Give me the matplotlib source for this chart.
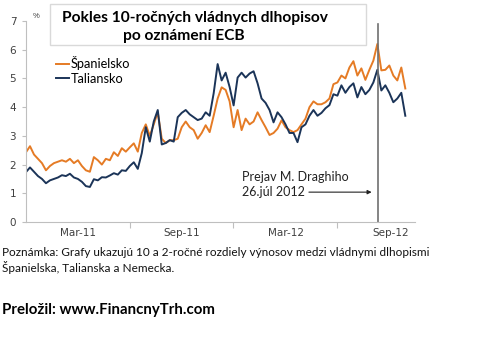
import matplotlib
matplotlib.use("Agg")
import matplotlib.pyplot as plt
import pandas as pd

# weekly readings, starting mid Nov 2010
start_date = "2010-11-17"
spain = [2.43, 2.64, 2.35, 2.2, 2.05, 1.8, 1.95, 2.05, 2.1, 2.15, 2.1, 2.2, 2.05,
         2.15, 1.95, 1.8, 1.75, 2.26, 2.15, 2.0, 2.2, 2.15, 2.43, 2.3, 2.57, 2.45,
         2.6, 2.74, 2.45, 3.1, 3.4, 3.0, 3.4, 3.82, 2.9, 2.75, 2.85, 2.85, 2.9, 3.3,
         3.5, 3.3, 3.2, 2.9, 3.1, 3.37, 3.13, 3.7, 4.3, 4.69, 4.6, 4.2, 3.3, 3.9,
         3.2, 3.6, 3.4, 3.5, 3.82, 3.55, 3.3, 3.03, 3.1, 3.25, 3.54, 3.3, 3.2, 3.13,
         3.2, 3.4, 3.6, 4.0, 4.2, 4.1, 4.1, 4.17, 4.3, 4.8, 4.86, 5.1, 5.0, 5.38,
         5.6, 5.1, 5.35, 4.95, 5.3, 5.62, 6.2, 5.28, 5.3, 5.45, 5.1, 4.93, 5.38, 4.65]
italy = [1.74, 1.9, 1.75, 1.6, 1.5, 1.35, 1.45, 1.5, 1.55, 1.63, 1.6, 1.68, 1.55,
         1.5, 1.4, 1.25, 1.22, 1.49, 1.45, 1.56, 1.55, 1.62, 1.7, 1.65, 1.8, 1.78,
         1.95, 2.08, 1.85, 2.4, 3.3, 2.8, 3.5, 3.9, 2.7, 2.75, 2.85, 2.8, 3.65, 3.8,
         3.9, 3.75, 3.65, 3.55, 3.6, 3.82, 3.7, 4.48, 5.5, 4.93, 5.2, 4.7, 4.06, 5.03,
         5.2, 5.03, 5.17, 5.25, 4.83, 4.3, 4.15, 3.9, 3.47, 3.82, 3.65, 3.4, 3.1, 3.1,
         2.78, 3.3, 3.4, 3.7, 3.9, 3.7, 3.8, 3.96, 4.07, 4.45, 4.4, 4.76, 4.5, 4.7,
         4.83, 4.34, 4.7, 4.45, 4.6, 4.86, 5.3, 4.58, 4.76, 4.5, 4.17, 4.3, 4.5, 3.7]
dates = pd.date_range(start_date, periods=len(spain), freq="7D")

tick_dates = ["2011-05-18", "2011-11-15", "2012-05-16"]
label_dates = ["2011-02-16", "2011-08-17", "2012-02-15", "2012-08-17"]
labels = ["Mar-11", "Sep-11", "Mar-12", "Sep-12"]
draghi_date = "2012-07-26"

orange = "#E57B25"
navy = "#1B3458"
axis_gray = "#BFBFBF"

fig = plt.figure(figsize=(4.82, 3.41), dpi=100)
ax = fig.add_axes([26 / 482, 1 - 222 / 341, (415 - 26) / 482, (222 - 21) / 341])

ax.plot(dates, spain, color=orange, lw=1.4, label="Španielsko")
ax.plot(dates, italy, color=navy, lw=1.4, label="Taliansko")
ax.axvline(pd.Timestamp(draghi_date), ymin=0, ymax=0.985, color="#707070", lw=1.2)

ax.set_ylim(0, 7)
ax.set_xlim(pd.Timestamp("2010-11-17"), pd.Timestamp("2012-09-29"))
ax.set_yticks(range(8))
ax.tick_params(axis="y", labelsize=7.5, labelcolor="#404040", color=axis_gray,
               length=3, pad=4)
ax.set_xticks(pd.to_datetime(tick_dates))
ax.set_xticklabels([])
ax.set_xticks(pd.to_datetime(label_dates), minor=True)
ax.set_xticklabels(labels, minor=True)
ax.tick_params(axis="x", which="major", color=axis_gray, length=4)
ax.tick_params(axis="x", which="minor", length=0, labelsize=7.5,
               labelcolor="#404040", pad=4)
for s in ["top", "right"]:
    ax.spines[s].set_visible(False)
for s in ["left", "bottom"]:
    ax.spines[s].set_color(axis_gray)

fig.text(33 / 482, 1 - 17 / 341, "%", fontsize=5.5, color="#404040",
         family="Liberation Sans", va="center")

# title box
box = plt.Rectangle((50 / 482, 1 - 45 / 341), 316 / 482, 41 / 341,
                    transform=fig.transFigure, facecolor="white",
                    edgecolor="#D9D9D9", lw=1, zorder=5)
fig.add_artist(box)
fig.text(195 / 482, 1 - 18 / 341, "Pokles 10-ročných vládnych dlhopisov",
         fontsize=11.2, fontweight="bold", family="Lato", ha="center",
         va="center", zorder=6)
fig.text(184 / 482, 1 - 36 / 341, "po oznámení ECB", fontsize=11.2,
         fontweight="bold", family="Lato", ha="center", va="center", zorder=6)

leg = ax.legend(loc="upper left", bbox_to_anchor=(0.065, 0.85), frameon=False,
                handlelength=1.0, handletextpad=0.15, labelspacing=0.2,
                borderaxespad=0, prop={"family": "Lato", "size": 9.2})

ax.text(pd.Timestamp("2011-12-01"), 1.56, "Prejav M. Draghiho", fontsize=9,
        family="Lato", color="#222222", va="center")
ax.text(pd.Timestamp("2011-12-01"), 1.04, "26.júl 2012", fontsize=9,
        family="Lato", color="#222222", va="center")
ax.annotate("", xy=(pd.Timestamp("2012-07-15"), 1.04),
            xytext=(pd.Timestamp("2012-03-27"), 1.04),
            arrowprops=dict(arrowstyle="-|>", color="#222222", lw=0.8,
                            mutation_scale=6, shrinkA=0, shrinkB=0))

fig.text(2 / 482, 1 - 252 / 341,
         "Poznámka: Grafy ukazujú 10 a 2-ročné rozdiely výnosov medzi vládnymi dlhopismi",
         fontsize=8.5, family="Lato", va="center", color="#111111")
fig.text(2 / 482, 1 - 267 / 341, "Španielska, Talianska a Nemecka.",
         fontsize=8.5, family="Lato", va="center", color="#111111")
fig.text(2 / 482, 1 - 310 / 341, "Preložil: www.FinancnyTrh.com",
         fontsize=10.8, fontweight="bold", family="Lato", va="center",
         color="black")

fig.savefig("out.png", dpi=100)
